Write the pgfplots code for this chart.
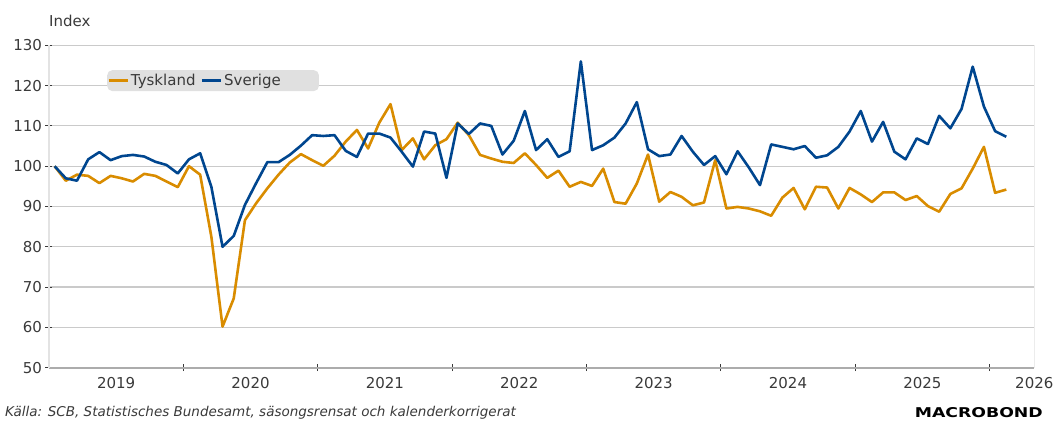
\documentclass[border=0pt]{standalone}
\usepackage{pgfplots}
\pgfplotsset{compat=1.18}
\usepackage{pgfplotstable}
\usepackage{fontspec}
\setmainfont{DejaVu Sans}

\definecolor{tysk}{HTML}{D98C00}
\definecolor{sve}{HTML}{00468F}
\definecolor{txt}{HTML}{3A3A3A}
\definecolor{gridc}{HTML}{CACACA}
\definecolor{legbg}{HTML}{E0E0E0}

% month index k = 0 is Jan 2019; T = Tyskland, S = Sverige
\pgfplotstableread{
k T S
0 100.0 100.0
1 96.4 97.0
2 97.9 96.4
3 97.6 101.7
4 95.8 103.5
5 97.6 101.5
6 97.0 102.5
7 96.2 102.8
8 98.1 102.4
9 97.6 101.1
10 96.2 100.3
11 94.8 98.2
12 100.0 101.7
13 97.9 103.2
14 82.5 94.9
15 60.2 80.0
16 67.2 82.7
17 86.6 90.4
18 90.8 95.8
19 94.5 101.0
20 97.9 101.0
21 100.9 102.8
22 103.0 105.1
23 101.5 107.7
24 100.1 107.5
25 102.6 107.7
26 106.1 103.8
27 109.0 102.3
28 104.4 108.1
29 110.8 108.1
30 115.4 107.1
31 104.0 103.6
32 106.9 99.9
33 101.7 108.6
34 105.2 108.1
35 106.7 97.1
36 110.8 110.6
37 107.7 108.0
38 102.8 110.6
39 101.9 110.0
40 101.1 102.9
41 100.8 106.3
42 103.2 113.7
43 100.3 104.0
44 97.1 106.7
45 98.9 102.3
46 94.9 103.7
47 96.1 126.0
48 95.1 104.0
49 99.4 105.2
50 91.1 107.1
51 90.7 110.6
52 95.7 115.9
53 102.9 104.2
54 91.2 102.5
55 93.6 102.9
56 92.4 107.5
57 90.3 103.6
58 91.0 100.3
59 101.5 102.5
60 89.5 98.0
61 89.9 103.7
62 89.5 99.7
63 88.8 95.3
64 87.7 105.4
65 92.2 104.8
66 94.6 104.2
67 89.3 105.0
68 94.9 102.1
69 94.7 102.7
70 89.5 104.8
71 94.6 108.6
72 93.0 113.7
73 91.1 106.1
74 93.5 111.0
75 93.5 103.6
76 91.6 101.7
77 92.6 106.9
78 90.1 105.5
79 88.7 112.5
80 93.1 109.4
81 94.5 114.2
82 99.4 124.7
83 104.8 114.8
84 93.4 108.7
85 94.2 107.3
}\data

\newcommand\lbl{\fontsize{15bp}{18bp}\selectfont}

\begin{document}
\begin{tikzpicture}
\useasboundingbox (-49bp,-53.3bp) rectangle (1011bp,367.7bp);
\begin{axis}[
    scale only axis,
    width=985.3bp, height=322.4bp,
    xmin=-0.5, xmax=87.5,
    ymin=50, ymax=130,
    axis x line*=bottom, axis y line*=left,
    x axis line style={-, draw=gridc!85!black, line width=1.8bp},
    y axis line style={-, draw=gray!22, line width=2bp},
    ytick={50,60,...,130},
    ymajorgrids,
    grid style={draw=gridc, line width=1.2bp},
    xtick={5.5,17.5,29.5,41.5,53.5,65.5,77.5,87.5},
    xticklabels={2019,2020,2021,2022,2023,2024,2025,2026},
    minor xtick={11.5,23.5,35.5,47.5,59.5,71.5,83.5},
    major x tick style={draw=none},
    minor x tick style={draw=txt, line width=0.9bp},
    y tick style={draw=txt, line width=0.9bp},
    tick align=center,
    major tick length=7bp, minor tick length=7bp,
    tick label style={font=\lbl, text=txt},
    xticklabel style={yshift=-3bp},
    /pgf/number format/assume math mode=true,
    legend style={at={(axis description cs:0.0589,0.9234)}, anchor=north west,
        fill=legbg, draw=none, rounded corners=5bp, legend columns=-1,
        inner xsep=0pt, inner ysep=2bp, font=\lbl, text=txt,
        /tikz/every even column/.append style={column sep=3bp}},
    legend image code/.code={\draw[#1, line width=2.7bp] (1bp,0bp) -- (20bp,0bp);},
]
\draw[draw=gridc, line width=1.3bp] (rel axis cs:1,0) -- (rel axis cs:1,1);
\addplot[tysk, line width=2.6bp, line join=round] table[x=k, y=T] {\data};
\addlegendentry{Tyskland}
\addplot[sve, line width=2.6bp, line join=round] table[x=k, y=S] {\data};
\addlegendentry{Sverige\hspace*{36bp}}
\end{axis}
\node[anchor=base west, font=\lbl, text=txt, inner sep=0pt] at (0bp,340.7bp) {Index};
\node[anchor=base west, font=\fontsize{13.5bp}{16bp}\selectfont\itshape, text=txt, inner sep=0pt]
    at (-44bp,-48.3bp) {Källa: SCB, Statistisches Bundesamt, säsongsrensat och kalenderkorrigerat};
\node[anchor=south east, inner sep=0pt] at (994bp,-50.3bp)
    {\resizebox{128bp}{10bp}{\bfseries MACROBOND}};
\end{tikzpicture}
\end{document}
